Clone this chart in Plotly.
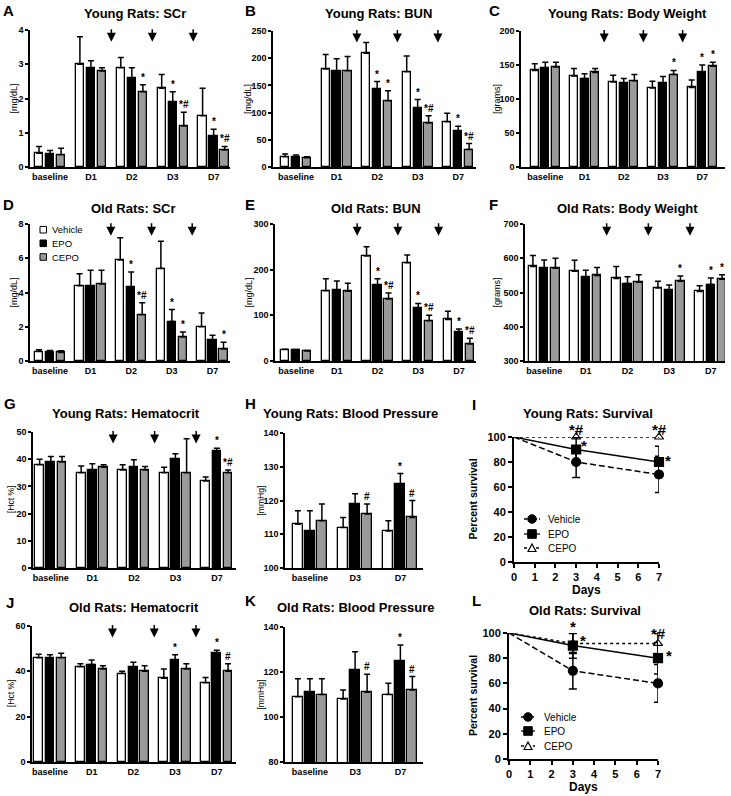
import plotly.graph_objects as go

W, H = 731, 796
FONT = "Liberation Sans, Arial, sans-serif"

# ---------------- data ----------------
series = ["Vehicle", "EPO", "CEPO"]
days5 = ["baseline", "D1", "D2", "D3", "D7"]
days3 = ["baseline", "D3", "D7"]

# A  Young Rats: SCr
a_veh = [0.40, 3.0, 2.9, 2.3, 1.5];  a_veh_se = [0.20, 0.8, 0.3, 0.4, 0.8]
a_epo = [0.38, 2.9, 2.6, 1.9, 0.9];  a_epo_se = [0.10, 0.2, 0.3, 0.3, 0.2]
a_cep = [0.36, 2.8, 2.2, 1.2, 0.5];  a_cep_se = [0.19, 0.1, 0.2, 0.4, 0.1]
a_sig = [["", "", "", "", ""], ["", "", "", "*", "*"], ["", "", "*", "*#", "*#"]]

# B  Young Rats: BUN
b_veh = [19, 180, 209, 175, 83];  b_veh_se = [5, 27, 20, 29, 16]
b_epo = [18, 176, 143, 109, 66];  b_epo_se = [4, 23, 14, 15, 9]
b_cep = [17, 177, 122, 81, 32];   b_cep_se = [2, 26, 18, 13, 11]
b_sig = [["", "", "", "", ""], ["", "", "*", "*", "*"], ["", "", "*", "*#", "*#"]]

# C  Young Rats: Body Weight
c_veh = [142, 134, 125, 116, 117];  c_veh_se = [10, 11, 10, 10, 11]
c_epo = [146, 130, 123, 124, 140];  c_epo_se = [8, 7, 7, 9, 10]
c_cep = [147, 139, 127, 136, 148];  c_cep_se = [7, 6, 9, 6, 6]
c_sig = [["", "", "", "", ""], ["", "", "", "", "*"], ["", "", "", "*", "*"]]

# D  Old Rats: SCr
d_veh = [0.55, 4.4, 5.9, 5.4, 2.0];  d_veh_se = [0.10, 0.7, 1.3, 1.6, 0.8]
d_epo = [0.55, 4.4, 4.3, 2.3, 1.2];  d_epo_se = [0.07, 0.9, 0.9, 0.7, 0.3]
d_cep = [0.50, 4.5, 2.7, 1.4, 0.7];  d_cep_se = [0.10, 0.8, 0.7, 0.3, 0.4]
d_sig = [["", "", "", "", ""], ["", "", "*", "*", ""], ["", "", "*#", "*", "*"]]

# E  Old Rats: BUN
e_veh = [25, 154, 230, 215, 91];  e_veh_se = [1, 26, 20, 17, 18]
e_epo = [24, 156, 166, 116, 63];  e_epo_se = [1, 19, 14, 10, 7]
e_cep = [22, 153, 136, 88, 37];   e_cep_se = [1, 17, 13, 12, 13]
e_sig = [["", "", "", "", ""], ["", "", "*", "*", "*"], ["", "", "*#", "*#", "*#"]]

# F  Old Rats: Body Weight
f_veh = [576, 562, 541, 513, 503];  f_veh_se = [32, 32, 35, 20, 17]
f_epo = [571, 546, 526, 508, 523];  f_epo_se = [24, 19, 20, 14, 19]
f_cep = [571, 550, 530, 533, 539];  f_cep_se = [29, 23, 22, 15, 13]
f_sig = [["", "", "", "", ""], ["", "", "", "", "*"], ["", "", "", "*", "*"]]

# G  Young Rats: Hematocrit
g_veh = [38, 35, 36, 35, 32];  g_veh_se = [2, 2.5, 2, 2, 1.5]
g_epo = [39, 36, 37, 40, 43];  g_epo_se = [2, 2.3, 2.8, 2, 1]
g_cep = [39, 37, 36, 35, 35];  g_cep_se = [2, 1, 1.3, 12.5, 1]
g_sig = [["", "", "", "", ""], ["", "", "", "", "*"], ["", "", "", "", "*#"]]

# H  Young Rats: Blood Pressure
h_veh = [113, 112, 111];  h_veh_se = [4, 3, 3]
h_epo = [111, 119, 125];  h_epo_se = [6, 3, 3]
h_cep = [114, 116, 115];  h_cep_se = [5, 3, 5]
h_sig = [["", "", ""], ["", "", "*"], ["", "#", "#"]]

# J  Old Rats: Hematocrit
j_veh = [46, 42, 39, 37, 35];  j_veh_se = [1.5, 1.3, 1, 4, 2.3]
j_epo = [46, 43, 42, 45, 48];  j_epo_se = [1.3, 2, 2, 2.3, 1.3]
j_cep = [46, 41, 40, 41, 40];  j_cep_se = [2, 1.5, 2.5, 2.3, 3.3]
j_sig = [["", "", "", "", ""], ["", "", "", "*", "*"], ["", "", "", "", "#"]]

# K  Old Rats: Blood Pressure
k_veh = [109, 108, 110];  k_veh_se = [8, 4, 5]
k_epo = [111, 121, 125];  k_epo_se = [6, 8, 7]
k_cep = [110, 111, 112];  k_cep_se = [7, 8, 6]
k_sig = [["", "", ""], ["", "", "*"], ["", "#", "#"]]

# I / L  Survival
surv_days = [0, 3, 7]
i_veh = [100, 80, 70];   i_veh_se = [0, 12.5, 14.5]
i_epo = [100, 90, 80];   i_epo_se = [0, 9.5, 12.5]
i_cep = [100, 100, 100]; i_cep_se = [0, 0, 0]
i_marks = [("*#", 3.0, 107.5), ("*", 3.37, 95), ("*#", 7.0, 108), ("*", 7.45, 83)]

l_veh = [100, 70, 60];    l_veh_se = [0, 14.5, 15]
l_epo = [100, 90, 80];    l_epo_se = [0, 10, 12.5]
l_cep = [100, 91.7, 91.7]; l_cep_se = [0, 8, 8]
l_marks = [("*", 3.02, 106.6), ("*", 3.47, 95.5), ("*#", 7.03, 101.5), ("*", 7.5, 83.7)]

# ---------------- style ----------------
bar_colors = ["white", "black", "#9a9a9a"]
surv_dash = ["6px,3px", "solid", "dot"]
surv_symbol = ["circle", "square", "triangle-up-open"]


def fx(px):
    return px / W


def fy(py):
    return 1 - py / H


fig = go.Figure()
layout = dict(width=W, height=H, margin=dict(l=0, r=0, t=0, b=0, pad=0, autoexpand=False),
              paper_bgcolor="white", plot_bgcolor="white",
              font=dict(family=FONT, color="black"), showlegend=False,
              bargap=0)
annotations = []
shapes = []


def names(k):
    return ("x" if k == 1 else f"x{k}", "y" if k == 1 else f"y{k}",
            "xaxis" if k == 1 else f"xaxis{k}", "yaxis" if k == 1 else f"yaxis{k}")


def text(x, y, s, size, bold=False, angle=0, xanchor="center", yanchor="middle", yshift=0):
    annotations.append(dict(x=fx(x), y=fy(y), xref="paper", yref="paper", text=s,
                            showarrow=False, textangle=angle, xanchor=xanchor, yanchor=yanchor,
                            yshift=yshift,
                            font=dict(family=FONT, size=size, color="black",
                                      weight="bold" if bold else "normal")))


def bar_panel(k, cats, means, ses, sigs, box, xrange, yrange, dtick, ylabel, ylab_x,
              title, tpos, letter, lpos, arrows, bw, pitch, ylab_size=9):
    xa, ya, xan, yan = names(k)
    x0, x1, ytop, ybot = box
    n = len(cats)
    for s in range(3):
        xs = [i + (s - 1) * pitch for i in range(n)]
        fig.add_trace(go.Bar(
            x=xs, y=means[s], width=bw, xaxis=xa, yaxis=ya, name=series[s],
            marker=dict(color=bar_colors[s], line=dict(color="black", width=1.3)),
            error_y=dict(type="data", symmetric=False, array=ses[s], arrayminus=[0] * n,
                         color="black", thickness=1.5, width=3),
            showlegend=False))
        for i in range(n):
            if sigs[s][i]:
                annotations.append(dict(x=xs[i], y=means[s][i] + ses[s][i], xref=xa, yref=ya,
                                        text=sigs[s][i], showarrow=False, yanchor="bottom",
                                        yshift=0,
                                        font=dict(family=FONT, size=10, color="black",
                                                  weight="bold")))
    layout[xan] = dict(domain=[fx(x0), fx(x1)], range=xrange, anchor=ya, automargin=False,
                       tickvals=list(range(n)), ticktext=cats, ticks="",
                       showline=True, linecolor="black", linewidth=1.5,
                       showgrid=False, zeroline=False, fixedrange=True,
                       tickfont=dict(family=FONT, size=9, color="black", weight="bold"))
    layout[yan] = dict(domain=[fy(ybot), fy(ytop)], range=yrange, anchor=xa, automargin=False,
                       tick0=yrange[0], dtick=dtick, ticks="outside", ticklen=3, tickwidth=1.5,
                       tickcolor="black", showline=True, linecolor="black", linewidth=1.5,
                       showgrid=False, zeroline=False, fixedrange=True,
                       tickfont=dict(family=FONT, size=9, color="black", weight="bold"))
    if arrows:
        for ax_ in [1.5, 2.5, 3.5]:
            annotations.append(dict(x=ax_, y=0.915, xref=xa, yref=f"{ya} domain", text="",
                                    showarrow=True, ax=0, ay=-14, arrowhead=2, arrowsize=1.2,
                                    arrowwidth=1.5, arrowcolor="black"))
    text(ylab_x, (ytop + ybot) / 2, ylabel, ylab_size, angle=-90)
    text(tpos[0], tpos[1], title, 13, bold=True)
    text(lpos[0], lpos[1], letter, 15, bold=True)


def surv_panel(k, vals, ses, marks, box, title, tpos, letter, lpos, ylab_x, xlab_y, legend_pos):
    xa, ya, xan, yan = names(k)
    x0, x1, ytop, ybot = box
    for s in range(3):
        fig.add_trace(go.Scatter(x=surv_days, y=vals[s], mode="lines", xaxis=xa, yaxis=ya,
                                 line=dict(color="black", width=1.5, dash=surv_dash[s]),
                                 cliponaxis=False, showlegend=False))
    for s in [2, 0, 1]:
        fig.add_trace(go.Scatter(
            x=surv_days[1:], y=vals[s][1:], mode="markers", xaxis=xa, yaxis=ya,
            marker=dict(symbol=surv_symbol[s], size=9 if s < 2 else 8, color="black",
                        line=dict(color="black", width=1.2)),
            error_y=dict(type="data", array=ses[s][1:], color="black", thickness=1.5, width=4,
                         visible=max(ses[s]) > 0),
            cliponaxis=False, showlegend=False))
    # significance marks: data position converted to the panel's pixel frame
    for (t, x, y) in marks:
        px = x0 + x / 7 * (x1 - x0)
        py = ybot - y / 100 * (ybot - ytop)
        text(px, py, t, 15, bold=True, yshift=-2)
    layout[xan] = dict(domain=[fx(x0), fx(x1)], range=[0, 7], anchor=ya, dtick=1, tick0=0,
                       automargin=False,
                       ticks="outside", ticklen=4, tickwidth=2, tickcolor="black",
                       showline=True, linecolor="black", linewidth=2,
                       showgrid=False, zeroline=False, fixedrange=True,
                       tickfont=dict(family=FONT, size=11, color="black", weight="bold"))
    layout[yan] = dict(domain=[fy(ybot), fy(ytop)], range=[0, 100], anchor=xa, dtick=20, tick0=0,
                       automargin=False,
                       ticks="outside", ticklen=4, tickwidth=2, tickcolor="black",
                       showline=True, linecolor="black", linewidth=2,
                       showgrid=False, zeroline=False, fixedrange=True,
                       tickfont=dict(family=FONT, size=11, color="black", weight="bold"))
    text(ylab_x, (ytop + ybot) / 2, "Percent survival", 10.5, bold=True, angle=-90)
    text((x0 + x1) / 2, xlab_y, "Days", 12, bold=True)
    text(tpos[0], tpos[1], title, 13, bold=True)
    text(lpos[0], lpos[1], letter, 15, bold=True)
    # legend drawn with shapes + text
    lx0, lx1, mx, tx, rows = legend_pos
    r = 4.3
    for s in range(3):
        yy = rows[s]
        shapes.append(dict(type="line", xref="paper", yref="paper", x0=fx(lx0), x1=fx(lx1),
                           y0=fy(yy), y1=fy(yy),
                           line=dict(color="black", width=1.3,
                                     dash=surv_dash[s] if s != 0 else "3px,2px")))
        if s == 0:
            shapes.append(dict(type="circle", xref="paper", yref="paper",
                               x0=fx(mx - r), x1=fx(mx + r), y0=fy(yy + r), y1=fy(yy - r),
                               fillcolor="black", line=dict(color="black", width=1)))
        elif s == 1:
            shapes.append(dict(type="rect", xref="paper", yref="paper",
                               x0=fx(mx - r), x1=fx(mx + r), y0=fy(yy + r), y1=fy(yy - r),
                               fillcolor="black", line=dict(color="black", width=1)))
        else:
            p = (f"M{fx(mx - 4)},{fy(yy + 3.5)} L{fx(mx + 4)},{fy(yy + 3.5)} "
                 f"L{fx(mx)},{fy(yy - 4)} Z")
            shapes.append(dict(type="path", xref="paper", yref="paper", path=p,
                               fillcolor="white", line=dict(color="black", width=1.2)))
        text(tx, yy, series[s], 10, xanchor="left")


bar_panel(1, days5, [a_veh, a_epo, a_cep], [a_veh_se, a_epo_se, a_cep_se], a_sig,
          (30, 230, 30, 167), [-0.49, 4.4], [0, 4], 1, "[mg/dL]", 13,
          "Young Rats: SCr", (135, 13), "A", (8, 10), True, 0.205, 0.27)
bar_panel(2, days5, [b_veh, b_epo, b_cep], [b_veh_se, b_epo_se, b_cep_se], b_sig,
          (273, 476, 31, 167), [-0.57, 4.44], [0, 250], 50, "[mg/dL]", 248,
          "Young Rats: BUN", (378, 13), "B", (250, 10), True, 0.205, 0.27)
bar_panel(3, days5, [c_veh, c_epo, c_cep], [c_veh_se, c_epo_se, c_cep_se], c_sig,
          (521, 725, 31, 167), [-0.62, 4.58], [0, 200], 50, "[grams]", 497,
          "Young Rats: Body Weight", (627, 13), "C", (494, 11), True, 0.205, 0.27)
bar_panel(4, days5, [d_veh, d_epo, d_cep], [d_veh_se, d_epo_se, d_cep_se], d_sig,
          (30, 230, 224, 361), [-0.49, 4.43], [0, 8], 2, "[mg/dL]", 13,
          "Old Rats: SCr", (133, 208), "D", (8, 205), True, 0.205, 0.27)
bar_panel(5, days5, [e_veh, e_epo, e_cep], [e_veh_se, e_epo_se, e_cep_se], e_sig,
          (275, 476, 224, 361), [-0.52, 4.42], [0, 300], 100, "[mg/dL]", 248,
          "Old Rats: BUN", (376, 208), "E", (250, 205), True, 0.205, 0.27)
bar_panel(6, days5, [f_veh, f_epo, f_cep], [f_veh_se, f_epo_se, f_cep_se], f_sig,
          (525, 725, 224, 361), [-0.46, 4.34], [300, 700], 100, "[grams]", 496,
          "Old Rats: Body Weight", (627, 208), "F", (493, 205), True, 0.205, 0.27)
bar_panel(7, days5, [g_veh, g_epo, g_cep], [g_veh_se, g_epo_se, g_cep_se], g_sig,
          (33, 236, 432, 568), [-0.43, 4.46], [0, 50], 10, "[Hct %]", 11,
          "Young Rats: Hematocrit", (126, 413), "G", (10, 403), True, 0.21, 0.27, 8.5)
bar_panel(8, days3, [h_veh, h_epo, h_cep], [h_veh_se, h_epo_se, h_cep_se], h_sig,
          (285, 423, 433, 568), [-0.55, 2.5], [100, 140], 10, "[mmHg]", 260,
          "Young Rats: Blood Pressure", (350, 413), "H", (250, 403), False, 0.22, 0.265, 8.5)
bar_panel(10, days5, [j_veh, j_epo, j_cep], [j_veh_se, j_epo_se, j_cep_se], j_sig,
          (32, 236, 626, 762), [-0.43, 4.46], [0, 60], 20, "[Hct %]", 11,
          "Old Rats: Hematocrit", (134, 607), "J", (10, 602), True, 0.21, 0.27, 8.5)
bar_panel(11, days3, [k_veh, k_epo, k_cep], [k_veh_se, k_epo_se, k_cep_se], k_sig,
          (285, 423, 627, 762), [-0.55, 2.5], [80, 140], 20, "[mmHg]", 260,
          "Old Rats: Blood Pressure", (355, 607), "K", (250, 600), False, 0.22, 0.265, 8.5)

surv_panel(9, [i_veh, i_epo, i_cep], [i_veh_se, i_epo_se, i_cep_se], i_marks,
           (514, 659, 437, 562), "Young Rats: Survival", (588, 413), "I", (474, 405),
           473, 590, (524, 540, 532, 546, [519, 534, 548]))
surv_panel(12, [l_veh, l_epo, l_cep], [l_veh_se, l_epo_se, l_cep_se], l_marks,
           (509, 658, 633, 759), "Old Rats: Survival", (585, 610), "L", (476, 600),
           473, 787, (521, 535, 528, 542, [717, 731, 746]))

# legend for bar panels (inside panel D)
for s in range(3):
    yy = [229.7, 243.3, 257][s]
    shapes.append(dict(type="rect", xref="paper", yref="paper",
                       x0=fx(40), x1=fx(46.5), y0=fy(yy + 3.3), y1=fy(yy - 3.3),
                       fillcolor=bar_colors[s], line=dict(color="black", width=1)))
    text(50, yy, series[s], 9.5, xanchor="left")

layout["annotations"] = annotations
layout["shapes"] = shapes
fig.update_layout(**layout)
fig.write_html("out.html", config={"displayModeBar": False},
               post_script="document.body.style.margin='0';document.body.style.padding='0';"
                           "document.body.style.overflow='hidden';")
